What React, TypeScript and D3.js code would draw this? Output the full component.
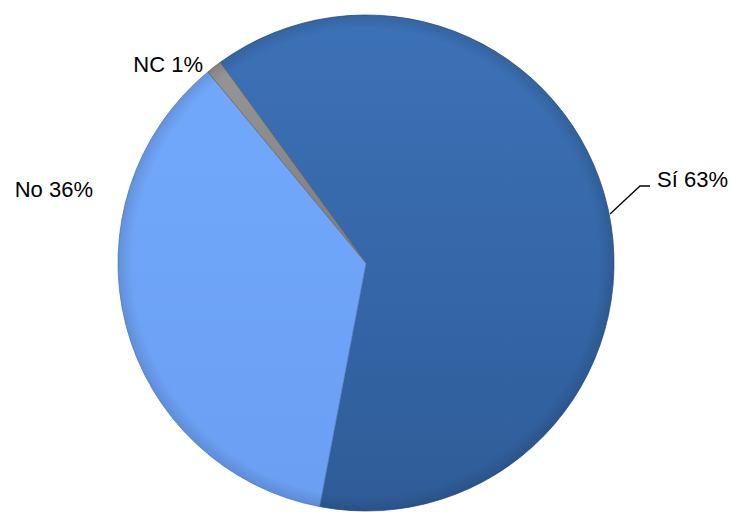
import React from 'react';
import * as d3 from 'd3';

const categories = ['Sí', 'No', 'NC'];
const values = [63, 36, 1];
const labels = ['Sí 63%', 'No 36%', 'NC 1%'];
const colors = ['#386aab', '#6ea5f9', '#8c8c8c'];

const W = 731;
const H = 512;
const cx = 366;
const cy = 263;
const R = 248;

export default function App() {
  const pie = d3
    .pie<number>()
    .sort(null)
    .startAngle((-36 * Math.PI) / 180)
    .endAngle((324 * Math.PI) / 180);
  const arcs = pie(values);
  const arc = d3.arc<d3.PieArcDatum<number>>().innerRadius(0).outerRadius(R);

  // label positions (estimated from reference)
  const labelPos = [
    { x: 728, y: 187, anchor: 'end' },
    { x: 93, y: 197, anchor: 'end' },
    { x: 203, y: 72, anchor: 'end' },
  ];

  return (
    <div style={{ position: 'absolute', left: 0, top: 0, width: W, height: H, overflow: 'hidden' }}>
      <svg width={W} height={H} style={{ display: 'block', background: '#fff' }}>
        <defs>
          <linearGradient id="g0" x1="0" y1="0" x2="0" y2="1">
            <stop offset="0%" stopColor="#3c72b8" />
            <stop offset="100%" stopColor="#2f5c98" />
          </linearGradient>
          <linearGradient id="g1" x1="0" y1="0" x2="0" y2="1">
            <stop offset="0%" stopColor="#72a8fb" />
            <stop offset="100%" stopColor="#6a9ff3" />
          </linearGradient>
          <linearGradient id="g2" x1="0" y1="0" x2="0" y2="1">
            <stop offset="0%" stopColor="#969696" />
            <stop offset="100%" stopColor="#7c7c7c" />
          </linearGradient>
          <radialGradient id="edge" cx="0.5" cy="0.5" r="0.5">
            <stop offset="94%" stopColor="#000" stopOpacity={0} />
            <stop offset="100%" stopColor="#000" stopOpacity={0.12} />
          </radialGradient>
        </defs>
        <g transform={`translate(${cx},${cy})`}>
          {arcs.map((a, i) => (
            <path
              key={categories[i]}
              d={arc(a) || ''}
              fill={`url(#g${i})`}
              stroke={i === 2 ? '#6a6a6a' : d3.color(colors[i])!.darker(0.6).toString()}
              strokeWidth={0.8}
            />
          ))}
          <circle r={R} fill="url(#edge)" />
        </g>
        <polyline
          points="610,214 640,186 650,186"
          fill="none"
          stroke="#000"
          strokeWidth={1.3}
        />
        {labels.map((t, i) => (
          <text
            key={t}
            x={labelPos[i].x}
            y={labelPos[i].y}
            textAnchor={labelPos[i].anchor as any}
            fontFamily="'Liberation Sans', Arial, sans-serif"
            fontSize={22}
            fill="#000"
          >
            {t}
          </text>
        ))}
      </svg>
    </div>
  );
}
